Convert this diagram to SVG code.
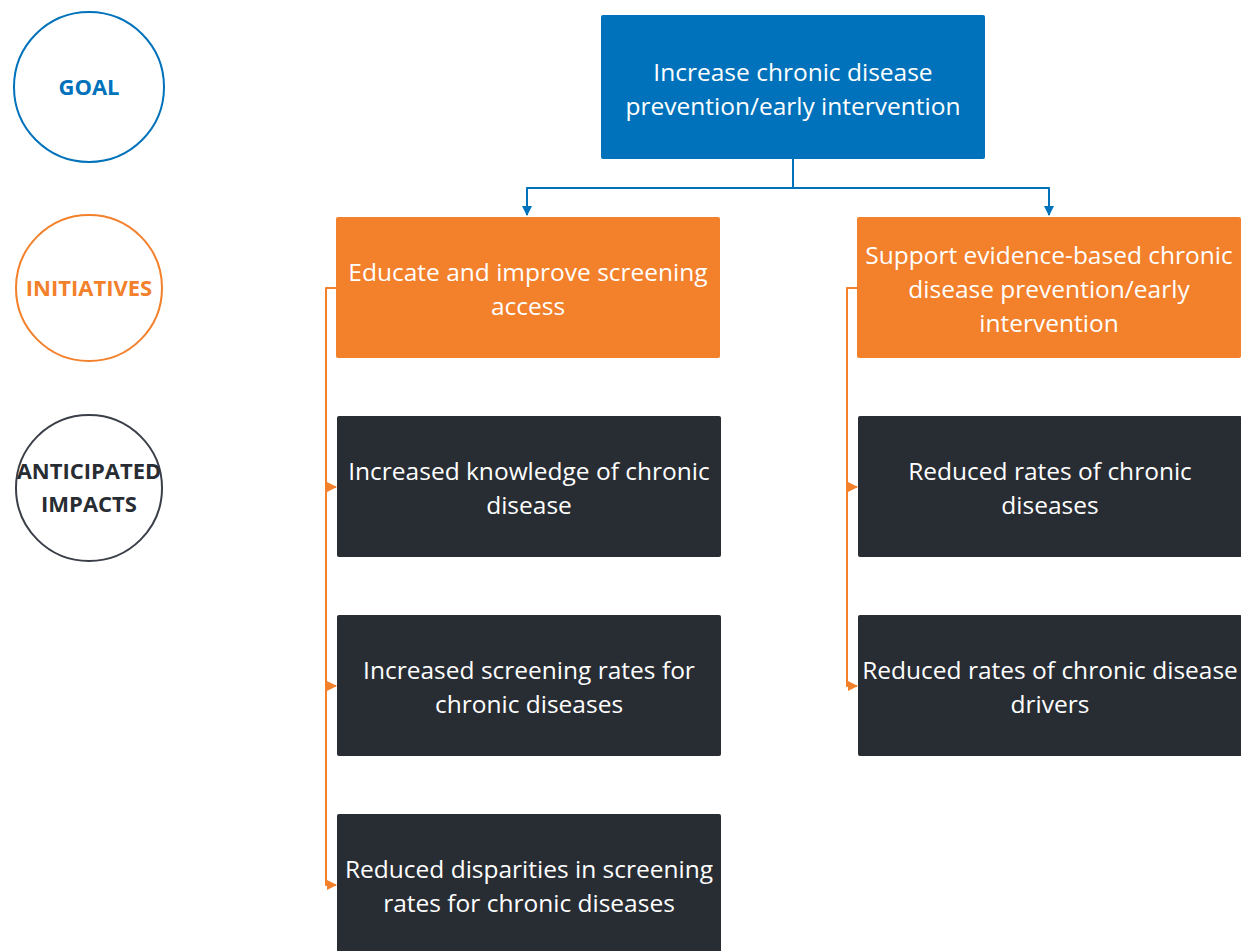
<svg xmlns="http://www.w3.org/2000/svg" width="1241" height="951" viewBox="0 0 1241 951">
  <defs>
    <style>
      .lbl { font-family: "Open Sans", "Noto Sans", sans-serif; font-size: 24.5px; fill: #ffffff; text-anchor: middle; }
      .leg { font-family: "Open Sans", "Noto Sans", sans-serif; font-size: 22px; font-weight: bold; text-anchor: middle; }
      .goal { fill: #0072bb; }
      .init { fill: #f3802b; }
      .imp { fill: #282c33; }
      .wire { fill: none; stroke-width: 2; stroke-linejoin: round; }
    </style>
    <marker id="arrBlue" viewBox="0 0 10 10" refX="9" refY="5" markerWidth="5" markerHeight="5" orient="auto">
      <path d="M0,0 L10,5 L0,10 z" fill="#0072bb"/>
    </marker>
    <marker id="arrOrange" viewBox="0 0 10 10" refX="9" refY="5" markerWidth="5" markerHeight="5" orient="auto">
      <path d="M0,0 L10,5 L0,10 z" fill="#f3802b"/>
    </marker>
  </defs>

  <rect width="1241" height="951" fill="#ffffff"/>

  <!-- Legend circles -->
  <g id="legend-goal">
    <circle cx="89" cy="87" r="75" fill="#ffffff" stroke="#0072bb" stroke-width="2"/>
    <text class="leg" x="89" y="95" fill="#0072bb">GOAL</text>
  </g>
  <g id="legend-initiatives">
    <circle cx="89" cy="288" r="73" fill="#ffffff" stroke="#f3802b" stroke-width="2"/>
    <text class="leg" x="89" y="296" fill="#f3802b">INITIATIVES</text>
  </g>
  <g id="legend-impacts">
    <circle cx="89" cy="488" r="73" fill="#ffffff" stroke="#3a3f48" stroke-width="2"/>
    <text class="leg" x="89" y="479" fill="#282c33">ANTICIPATED</text>
    <text class="leg" x="89" y="512" fill="#282c33">IMPACTS</text>
  </g>

  <!-- Connectors -->
  <g id="connectors">
    <path class="wire" stroke="#0072bb" d="M793,159 V188 H527 V215" marker-end="url(#arrBlue)"/>
    <path class="wire" stroke="#0072bb" d="M793,188 H1049 V215" marker-end="url(#arrBlue)"/>
    <path class="wire" stroke="#f3802b" d="M336,288 H326 V885 H336" marker-end="url(#arrOrange)"/>
    <path class="wire" stroke="#f3802b" d="M326,487 H336" marker-end="url(#arrOrange)"/>
    <path class="wire" stroke="#f3802b" d="M326,686 H336" marker-end="url(#arrOrange)"/>
    <path class="wire" stroke="#f3802b" d="M857,288 H847 V686 H857" marker-end="url(#arrOrange)"/>
    <path class="wire" stroke="#f3802b" d="M847,487 H857" marker-end="url(#arrOrange)"/>
  </g>

  <!-- Goal -->
  <g id="goal">
    <rect class="goal" x="601" y="15" width="384" height="144" rx="2"/>
    <text class="lbl" x="793" y="81">Increase chronic disease</text>
    <text class="lbl" x="793" y="115">prevention/early intervention</text>
  </g>

  <!-- Initiatives -->
  <g id="init-screening">
    <rect class="init" x="336" y="217" width="384" height="141" rx="2"/>
    <text class="lbl" x="528" y="281">Educate and improve screening</text>
    <text class="lbl" x="528" y="315">access</text>
  </g>
  <g id="init-prevention">
    <rect class="init" x="857" y="217" width="384" height="141" rx="2"/>
    <text class="lbl" x="1049" y="264">Support evidence-based chronic</text>
    <text class="lbl" x="1049" y="298">disease prevention/early</text>
    <text class="lbl" x="1049" y="332">intervention</text>
  </g>

  <!-- Anticipated impacts -->
  <g id="impact-knowledge">
    <rect class="imp" x="337" y="416" width="384" height="141" rx="2"/>
    <text class="lbl" x="529" y="480">Increased knowledge of chronic</text>
    <text class="lbl" x="529" y="514">disease</text>
  </g>
  <g id="impact-screening-rates">
    <rect class="imp" x="337" y="615" width="384" height="141" rx="2"/>
    <text class="lbl" x="529" y="679">Increased screening rates for</text>
    <text class="lbl" x="529" y="713">chronic diseases</text>
  </g>
  <g id="impact-disparities">
    <rect class="imp" x="337" y="814" width="384" height="141" rx="2"/>
    <text class="lbl" x="529" y="878">Reduced disparities in screening</text>
    <text class="lbl" x="529" y="912">rates for chronic diseases</text>
  </g>
  <g id="impact-chronic-rates">
    <rect class="imp" x="858" y="416" width="384" height="141" rx="2"/>
    <text class="lbl" x="1050" y="480">Reduced rates of chronic</text>
    <text class="lbl" x="1050" y="514">diseases</text>
  </g>
  <g id="impact-drivers">
    <rect class="imp" x="858" y="615" width="384" height="141" rx="2"/>
    <text class="lbl" x="1050" y="679">Reduced rates of chronic disease</text>
    <text class="lbl" x="1050" y="713">drivers</text>
  </g>
</svg>
